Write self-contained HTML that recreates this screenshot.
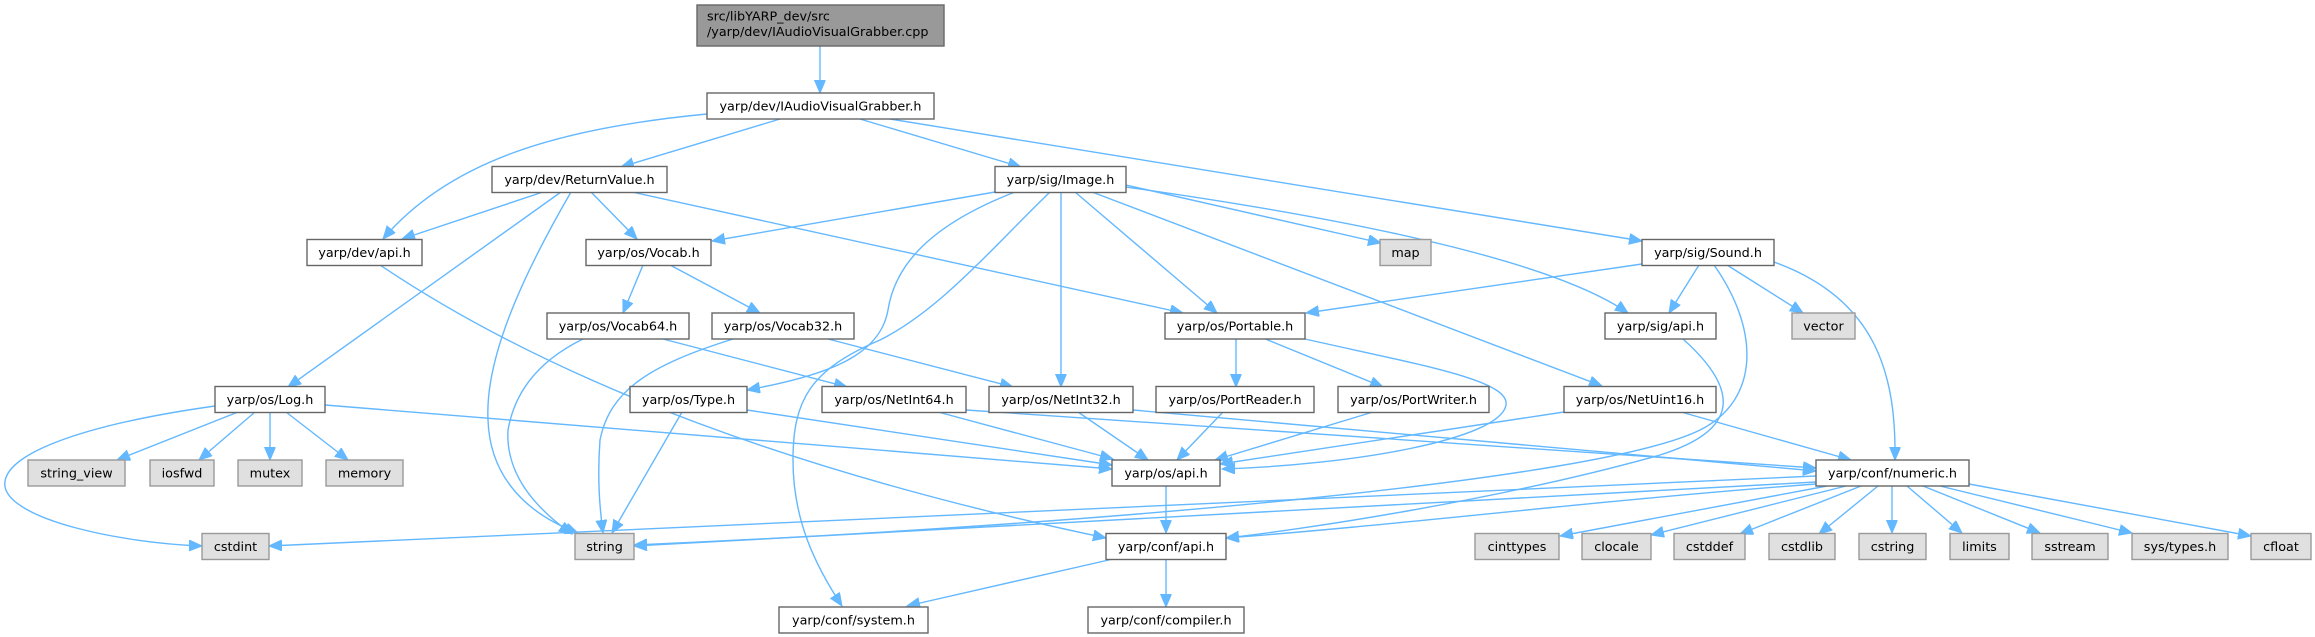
<!DOCTYPE html>
<html><head><meta charset="utf-8"><style>
html,body{margin:0;padding:0;background:#fff;}
svg{display:block;}
text{font-family:"DejaVu Sans","Liberation Sans",sans-serif;font-size:12.75px;fill:#000;}
.n{fill:#fff;stroke:#666;stroke-width:1.4;}
.g{fill:#e0e0e0;stroke:#999;stroke-width:1.4;}
.e{fill:none;stroke:#63b8ff;stroke-width:1.4;}
</style></head><body>
<svg width="2315" height="637" viewBox="0 0 2315 637" xmlns="http://www.w3.org/2000/svg">
<defs>
<marker id="a" markerUnits="userSpaceOnUse" markerWidth="15" markerHeight="13" refX="13" refY="5.5" orient="auto"><path d="M0,0 L13,5.5 L0,11 z" fill="#63b8ff" stroke="#63b8ff" stroke-width="1"/></marker>
</defs>
<g marker-end="url(#a)">
<path class="e" d="M820,46 L820,93"/>
<path class="e" d="M707,114 C560,128 450,160 383,239"/>
<path class="e" d="M780,119 L621,167"/>
<path class="e" d="M860,119 L1021,167"/>
<path class="e" d="M890,119 L1642,241"/>
<path class="e" d="M543,192 L402,239"/>
<path class="e" d="M561,192 L288,387"/>
<path class="e" d="M571,192 C520,280 485,360 488,420 C490,480 530,515 578,533"/>
<path class="e" d="M591,192 L637,239"/>
<path class="e" d="M632,192 L1183,313"/>
<path class="e" d="M995,192 L712,241"/>
<path class="e" d="M380,265 Q640,440 1106,538"/>
<path class="e" d="M1015,192 C930,225 895,265 888,310 C880,355 830,375 747,390"/>
<path class="e" d="M1050,192 C990,250 940,310 880,340 C810,370 793,400 793,460 C793,520 815,565 842,606"/>
<path class="e" d="M1061,192 L1061,387"/>
<path class="e" d="M1075,192 L1217,313"/>
<path class="e" d="M1092,192 L1602,386"/>
<path class="e" d="M1126,187 Q1529,244 1628,313"/>
<path class="e" d="M1126,185 L1381,243"/>
<path class="e" d="M1642,264 L1306,313"/>
<path class="e" d="M1699,265 L1669,313"/>
<path class="e" d="M1727,265 L1803,313"/>
<path class="e" d="M1774,262 C1880,300 1896,380 1895,460"/>
<path class="e" d="M1714,265 C1760,330 1760,400 1700,430 C1600,480 1100,525 634,545"/>
<path class="e" d="M1816,482 L634,546"/>
<path class="e" d="M1816,476 L269,546"/>
<path class="e" d="M1683,339 C1740,390 1740,430 1660,455 C1500,500 1300,530 1226,538"/>
<path class="e" d="M1816,484 C1600,500 1400,525 1226,538"/>
<path class="e" d="M1236,338 L1236,387"/>
<path class="e" d="M1263,338 L1383,387"/>
<path class="e" d="M1305,339 C1420,365 1510,380 1506,405 C1500,440 1350,465 1222,469"/>
<path class="e" d="M1223,412 L1177,460"/>
<path class="e" d="M1373,412 L1215,460"/>
<path class="e" d="M1564,412 L1220,464"/>
<path class="e" d="M1078,412 L1148,460"/>
<path class="e" d="M938,412 L1113,459"/>
<path class="e" d="M747,410 L1112,465"/>
<path class="e" d="M325,405 L1112,469"/>
<path class="e" d="M966,410 L1816,468"/>
<path class="e" d="M1133,410 L1816,471"/>
<path class="e" d="M1681,412 L1851,460"/>
<path class="e" d="M1166,486 L1166,533"/>
<path class="e" d="M1113,559 L907,606"/>
<path class="e" d="M1166,559 L1166,607"/>
<path class="e" d="M1827,486 L1560,536"/>
<path class="e" d="M1846,486 L1651,535"/>
<path class="e" d="M1861,486 L1740,534"/>
<path class="e" d="M1878,486 L1819,534"/>
<path class="e" d="M1892,486 L1892,533"/>
<path class="e" d="M1907,486 L1962,533"/>
<path class="e" d="M1923,486 L2040,533"/>
<path class="e" d="M1940,486 L2132,533"/>
<path class="e" d="M1969,484 L2251,536"/>
<path class="e" d="M238,412 L117,460"/>
<path class="e" d="M255,412 L199,460"/>
<path class="e" d="M270,412 L270,460"/>
<path class="e" d="M286,412 L348,460"/>
<path class="e" d="M215,406 C80,425 0,455 5,487 C12,520 120,543 202,546"/>
<path class="e" d="M682,412 L612,533"/>
<path class="e" d="M643,265 L623,313"/>
<path class="e" d="M670,265 L760,313"/>
<path class="e" d="M583,339 C540,360 515,390 508,430 C505,480 545,515 572,534"/>
<path class="e" d="M663,339 L847,387"/>
<path class="e" d="M733,339 C650,365 610,390 600,440 C597,480 600,510 603,533"/>
<path class="e" d="M828,339 L1013,387"/>
</g>

<rect x="697" y="5" width="247" height="41" fill="#999" stroke="#666" stroke-width="1.4"/>
<text x="707" y="20.5">src/libYARP_dev/src</text>
<text x="707" y="36">/yarp/dev/IAudioVisualGrabber.cpp</text>

<g text-anchor="middle">
<rect class="n" x="707" y="93" width="227" height="26"/><text x="820.5" y="110.5">yarp/dev/IAudioVisualGrabber.h</text>
<rect class="n" x="492" y="166.5" width="175" height="26"/><text x="579.5" y="184">yarp/dev/ReturnValue.h</text>
<rect class="n" x="995" y="166.5" width="131" height="26"/><text x="1060.5" y="184">yarp/sig/Image.h</text>
<rect class="n" x="307" y="239.5" width="115" height="26"/><text x="364.5" y="257">yarp/dev/api.h</text>
<rect class="n" x="586" y="239.5" width="125" height="26"/><text x="648.5" y="257">yarp/os/Vocab.h</text>
<rect class="g" x="1380" y="239.5" width="51" height="26"/><text x="1405.5" y="257">map</text>
<rect class="n" x="1642" y="239.5" width="132" height="26"/><text x="1708" y="257">yarp/sig/Sound.h</text>
<rect class="n" x="547" y="313" width="142" height="26"/><text x="618" y="330.5">yarp/os/Vocab64.h</text>
<rect class="n" x="712" y="313" width="142" height="26"/><text x="783" y="330.5">yarp/os/Vocab32.h</text>
<rect class="n" x="1165" y="313" width="140" height="26"/><text x="1235" y="330.5">yarp/os/Portable.h</text>
<rect class="n" x="1605" y="313" width="111" height="26"/><text x="1660.5" y="330.5">yarp/sig/api.h</text>
<rect class="g" x="1792" y="313" width="63" height="26"/><text x="1823.5" y="330.5">vector</text>
<rect class="n" x="215" y="386.5" width="110" height="26"/><text x="270" y="404">yarp/os/Log.h</text>
<rect class="n" x="630" y="386.5" width="117" height="26"/><text x="688.5" y="404">yarp/os/Type.h</text>
<rect class="n" x="822" y="386.5" width="144" height="26"/><text x="894" y="404">yarp/os/NetInt64.h</text>
<rect class="n" x="989" y="386.5" width="144" height="26"/><text x="1061" y="404">yarp/os/NetInt32.h</text>
<rect class="n" x="1156" y="386.5" width="158" height="26"/><text x="1235" y="404">yarp/os/PortReader.h</text>
<rect class="n" x="1338" y="386.5" width="151" height="26"/><text x="1413.5" y="404">yarp/os/PortWriter.h</text>
<rect class="n" x="1564" y="386.5" width="152" height="26"/><text x="1640" y="404">yarp/os/NetUint16.h</text>
<rect class="g" x="28" y="460" width="97" height="26"/><text x="76.5" y="477.5">string_view</text>
<rect class="g" x="150" y="460" width="64" height="26"/><text x="182" y="477.5">iosfwd</text>
<rect class="g" x="238" y="460" width="64" height="26"/><text x="270" y="477.5">mutex</text>
<rect class="g" x="326" y="460" width="77" height="26"/><text x="364.5" y="477.5">memory</text>
<rect class="n" x="1112" y="460" width="108" height="26"/><text x="1166" y="477.5">yarp/os/api.h</text>
<rect class="n" x="1816" y="460" width="153" height="26"/><text x="1892.5" y="477.5">yarp/conf/numeric.h</text>
<rect class="g" x="202" y="533.5" width="67" height="26"/><text x="235.5" y="551">cstdint</text>
<rect class="g" x="575" y="533.5" width="59" height="26"/><text x="604.5" y="551">string</text>
<rect class="n" x="1106" y="533.5" width="120" height="26"/><text x="1166" y="551">yarp/conf/api.h</text>
<rect class="g" x="1475" y="533.5" width="84" height="26"/><text x="1517" y="551">cinttypes</text>
<rect class="g" x="1582" y="533.5" width="69" height="26"/><text x="1616.5" y="551">clocale</text>
<rect class="g" x="1674" y="533.5" width="71" height="26"/><text x="1709.5" y="551">cstddef</text>
<rect class="g" x="1769" y="533.5" width="66" height="26"/><text x="1802" y="551">cstdlib</text>
<rect class="g" x="1859" y="533.5" width="67" height="26"/><text x="1892.5" y="551">cstring</text>
<rect class="g" x="1950" y="533.5" width="59" height="26"/><text x="1979.5" y="551">limits</text>
<rect class="g" x="2032" y="533.5" width="76" height="26"/><text x="2070" y="551">sstream</text>
<rect class="g" x="2132" y="533.5" width="96" height="26"/><text x="2180" y="551">sys/types.h</text>
<rect class="g" x="2251" y="533.5" width="60" height="26"/><text x="2281" y="551">cfloat</text>
<rect class="n" x="779" y="607" width="149" height="26"/><text x="853.5" y="624.5">yarp/conf/system.h</text>
<rect class="n" x="1088" y="607" width="156" height="26"/><text x="1166" y="624.5">yarp/conf/compiler.h</text>
</g>
</svg>
</body></html>
